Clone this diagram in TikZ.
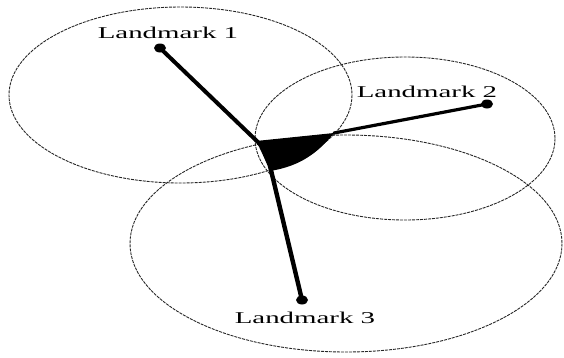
\documentclass[tikz,border=0pt]{standalone}
\usepackage{fontspec}
\setmainfont{Liberation Serif}
\usetikzlibrary{shapes.geometric}
\tikzset{
  rangering/.style={draw=black!85, line width=0.9pt, dash pattern=on 3pt off 1pt},
  lmdot/.style={ellipse, fill=black, inner sep=0pt, minimum width=12pt, minimum height=9pt},
  lmlabel/.style={font=\fontsize{16.5}{18}\selectfont, inner sep=0pt},
  ray/.style={line width=4pt, line cap=round}
}
\begin{document}
\begin{tikzpicture}[x=1pt,y=-1pt]
\useasboundingbox (0,0) rectangle (564,357);
% range ellipses
\draw[rangering] (180.5,95) ellipse [x radius=171.5, y radius=88];
\draw[rangering] (405,138.5) ellipse [x radius=150, y radius=81.5];
\draw[rangering] (346,243.5) ellipse [x radius=216, y radius=108.5];
% uncertainty region
\coordinate (ta) at (256,141);
\coordinate (tb) at (334,133);
\coordinate (tc) at (270,171);
\fill (ta) -- (tb) .. controls (314,158) and (294,167) .. (tc) .. controls (265,160) and (261,150) .. (ta) -- cycle;
% landmarks
\node[lmdot] (L1) at (160,48) {};
\node[lmdot] (L2) at (487,104) {};
\node[lmdot] (L3) at (302,300) {};
\node[lmlabel] (lab1) at (168,33) {\scalebox{1.75}[1]{Landmark 1}};
\node[lmlabel] (lab2) at (427,92) {\scalebox{1.75}[1]{Landmark 2}};
\node[lmlabel] (lab3) at (305,318) {\scalebox{1.75}[1]{Landmark 3}};
% rays
\coordinate (r1) at (262,146);
\coordinate (r3) at (270,166);
\draw[ray] (L1.center) -- (r1);
\draw[ray, line width=3.2pt] (tb) -- (L2.center);
\draw[ray, line width=4.4pt] (r3) -- (L3.center);
\end{tikzpicture}
\end{document}
